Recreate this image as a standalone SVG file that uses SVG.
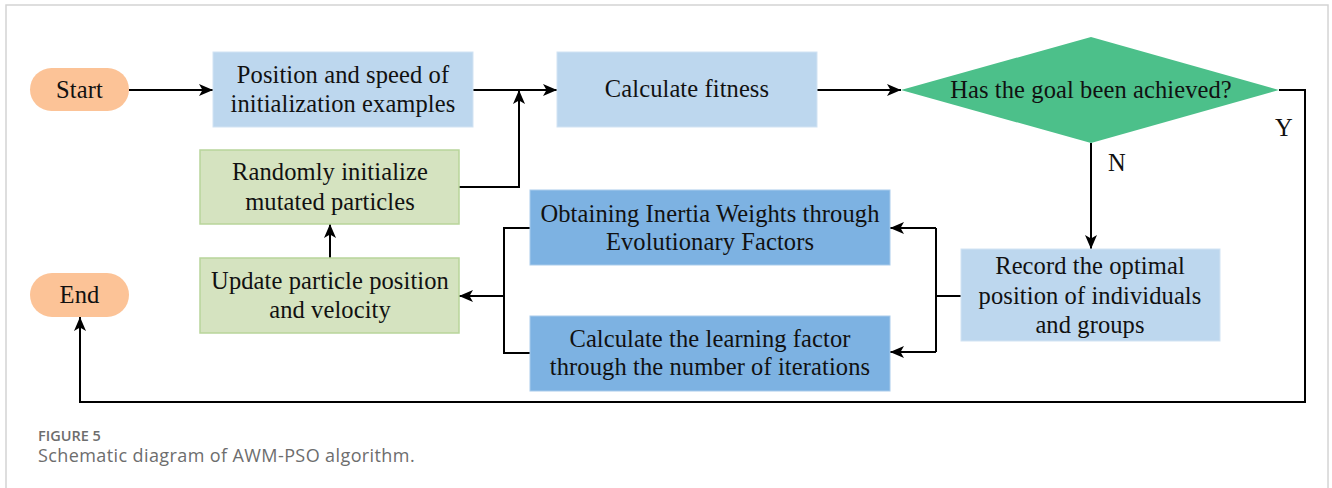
<svg xmlns="http://www.w3.org/2000/svg" width="1332" height="488" viewBox="0 0 1332 488">
  <defs>
    <marker id="arrow" viewBox="0 0 14 12" refX="14" refY="6" markerWidth="14" markerHeight="12" markerUnits="userSpaceOnUse" orient="auto">
      <path d="M0,0 L14,6 L0,12 L3.5,6 Z" fill="#000"/>
    </marker>
    <style>
      .frame { fill: #fff; stroke: #d4d4d4; stroke-width: 1.5; }
      .term { fill: #fcc397; }
      .pale { fill: #bdd7ee; stroke: #d2e3f3; stroke-width: 1; }
      .mid { fill: #7db2e2; stroke: #a9cbeb; stroke-width: 1; }
      .leaf { fill: #d5e3c0; stroke: #b8d59a; stroke-width: 1.5; }
      .dec { fill: #4cc08a; }
      .lbl { font-family: 'Liberation Serif', 'Times New Roman', serif; font-size: 24.5px; letter-spacing: 0.1px; fill: #111; text-anchor: middle; }
      .wire { fill: none; stroke: #000; stroke-width: 2; }
      .cap1 { font-family: 'Open Sans', 'Noto Sans', sans-serif; font-size: 14.5px; font-weight: 600; fill: #6d6d6d; }
      .cap2 { font-family: 'Open Sans', 'Noto Sans', sans-serif; font-size: 18px; fill: #6d6d6d; letter-spacing: 0.4px; }
    </style>
  </defs>

  <!-- figure frame -->
  <rect class="frame" x="6" y="5" width="1322" height="500"/>

  <g id="connectors">
    <path class="wire" d="M129,90 H213" marker-end="url(#arrow)"/>
    <path class="wire" d="M473,90 H557" marker-end="url(#arrow)"/>
    <path class="wire" d="M459,187 H519 V90" marker-end="url(#arrow)"/>
    <path class="wire" d="M817,90 H901" marker-end="url(#arrow)"/>
    <path class="wire" d="M1091,143 V249" marker-end="url(#arrow)"/>
    <path class="wire" d="M1279,90 H1305 V402 H80 V317" marker-end="url(#arrow)"/>
    <path class="wire" d="M961,296 H936"/>
    <path class="wire" d="M936,228 V352"/>
    <path class="wire" d="M936,228 H890" marker-end="url(#arrow)"/>
    <path class="wire" d="M936,352 H890" marker-end="url(#arrow)"/>
    <path class="wire" d="M530,228 H504 V353 H530"/>
    <path class="wire" d="M504,296 H459" marker-end="url(#arrow)"/>
    <path class="wire" d="M330,258 V224" marker-end="url(#arrow)"/>
    <text class="lbl" x="1284" y="136">Y</text>
    <text class="lbl" x="1117" y="171">N</text>
  </g>

  <g id="start">
    <rect class="term" x="30" y="68" width="99" height="43" rx="21.5"/>
    <text class="lbl" x="79.5" y="98">Start</text>
  </g>

  <g id="init">
    <rect class="pale" x="213" y="52" width="260" height="75"/>
    <text class="lbl" x="343" y="83">Position and speed of</text>
    <text class="lbl" x="343" y="112">initialization examples</text>
  </g>

  <g id="fitness">
    <rect class="pale" x="557" y="52" width="260" height="75"/>
    <text class="lbl" x="687" y="97">Calculate fitness</text>
  </g>

  <g id="goal">
    <polygon class="dec" points="901,90 1091,37 1279,90 1091,143"/>
    <text class="lbl" x="1091" y="98">Has the goal been achieved?</text>
  </g>

  <g id="mutate">
    <rect class="leaf" x="200" y="150" width="259" height="74"/>
    <text class="lbl" x="330" y="180">Randomly initialize</text>
    <text class="lbl" x="330" y="210">mutated particles</text>
  </g>

  <g id="update">
    <rect class="leaf" x="200" y="258" width="259" height="75"/>
    <text class="lbl" x="330" y="289">Update particle position</text>
    <text class="lbl" x="330" y="318">and velocity</text>
  </g>

  <g id="inertia">
    <rect class="mid" x="530" y="190" width="360" height="75"/>
    <text class="lbl" x="710" y="222">Obtaining Inertia Weights through</text>
    <text class="lbl" x="710" y="250">Evolutionary Factors</text>
  </g>

  <g id="learning">
    <rect class="mid" x="530" y="316" width="360" height="75"/>
    <text class="lbl" x="710" y="347">Calculate the learning factor</text>
    <text class="lbl" x="710" y="375">through the number of iterations</text>
  </g>

  <g id="record">
    <rect class="pale" x="961" y="249" width="259" height="92"/>
    <text class="lbl" x="1090" y="274">Record the optimal</text>
    <text class="lbl" x="1090" y="304">position of individuals</text>
    <text class="lbl" x="1090" y="333">and groups</text>
  </g>

  <g id="end">
    <rect class="term" x="30" y="273" width="99" height="44" rx="22"/>
    <text class="lbl" x="79.5" y="303">End</text>
  </g>

  <text class="cap1" x="38" y="441">FIGURE 5</text>
  <text class="cap2" x="38" y="462">Schematic diagram of AWM-PSO algorithm.</text>
</svg>
